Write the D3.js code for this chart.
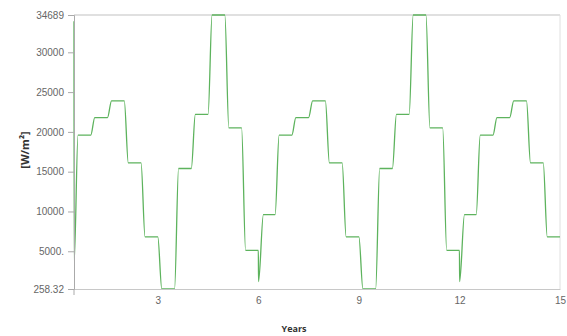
<!DOCTYPE html>
<html>
<head>
<meta charset="utf-8">
<script src="https://cdn.jsdelivr.net/npm/d3@7"></script>
<style>
  html, body { margin: 0; padding: 0; background: #fff; }
  svg { display: block; font-family: "Open Sans", "Noto Sans", sans-serif; }
  .tick text { fill: #666; font-size: 10px; }
  .axis-title { font-weight: bold; fill: #333; }
</style>
</head>
<body>
<svg id="chart" width="567" height="336"></svg>
<script>
// plateau start (years) and level [W/m2], each plateau lasts until the next start
const stepYears = [0.5, 1.0, 1.5, 2.0, 2.5, 3.0, 3.5, 4.0, 4.5, 5.0, 5.5, 6.0,
                   6.5, 7.0, 7.5, 8.0, 8.5, 9.0, 9.5, 10.0, 10.5, 11.0, 11.5, 12.0,
                   12.5, 13.0, 13.5, 14.0, 14.5];
const stepFlux = [19600, 21800, 23900, 16100, 6800, 258.32, 15400, 22200, 34689, 20500, 5100, 9600,
                  19600, 21800, 23900, 16100, 6800, 258.32, 15400, 22200, 34689, 20500, 5100, 9600,
                  19600, 21800, 23900, 16100, 6800];
const endYear = 15;

// start-up transient and the short dips before the 9600 plateaus
const startFlux = [33900, 3600];
const dipYears = [6.0, 12.0];
const dipFlux = [1200, 1200];

const xTicks = [3, 6, 9, 12, 15];
const yTicks = [258.32, 5000, 10000, 15000, 20000, 25000, 30000, 34689];
const yTickLabels = ['258.32', '5000.', '10000', '15000', '20000', '25000', '30000', '34689'];

const margin = { top: 15, right: 7, bottom: 47, left: 74 };
const width = 567 - margin.left - margin.right;
const height = 336 - margin.top - margin.bottom;
const ramp = 0.12;

const svg = d3.select('#chart');
const g = svg.append('g').attr('transform', `translate(${margin.left},${margin.top})`);

const x = d3.scaleLinear().domain([0.5, endYear]).range([0, width]);
const y = d3.scaleLinear().domain([258.32, 34689]).range([height, 0]);

// frame
g.append('line').attr('x1', 0).attr('x2', width).attr('y1', 0).attr('y2', 0)
  .attr('stroke', '#d6d6d6').attr('stroke-width', 1.5);
g.append('line').attr('x1', width).attr('x2', width).attr('y1', 0).attr('y2', height)
  .attr('stroke', '#e0e0e0');

// build vertices from plateaus
const pts = [[stepYears[0], startFlux[0]], [stepYears[0] + 0.004, startFlux[1]]];
stepYears.forEach((t, i) => {
  const next = i < stepYears.length - 1 ? stepYears[i + 1] : endYear;
  const d = dipYears.indexOf(t);
  if (d >= 0) {
    pts.push([t + 0.006, dipFlux[d]]);
    pts.push([t + ramp + 0.03, stepFlux[i]]);
  } else {
    pts.push([t + ramp, stepFlux[i]]);
  }
  pts.push([next, stepFlux[i]]);
});

const line = d3.line()
  .x(d => x(d[0]))
  .y(d => y(d[1]))
  .curve(d3.curveMonotoneX);

g.append('path')
  .datum(pts)
  .attr('fill', 'none')
  .attr('stroke', '#5db35d')
  .attr('stroke-width', 1.3)
  .attr('d', line);

// axes
const xAxis = g.append('g')
  .attr('transform', `translate(0,${height})`)
  .call(d3.axisBottom(x).tickValues(xTicks).tickSize(0).tickPadding(8).tickFormat(d3.format('d')));
xAxis.select('.domain').attr('stroke', '#c8c8c8');

g.append('line').attr('x1', 0).attr('x2', 0).attr('y1', height).attr('y2', height + 6)
  .attr('stroke', '#aaa');

const yAxis = g.append('g')
  .call(d3.axisLeft(y).tickValues(yTicks).tickSize(6).tickPadding(4)
    .tickFormat((d, i) => yTickLabels[i]));
yAxis.select('.domain').attr('stroke', '#aaa');
yAxis.selectAll('.tick line').attr('stroke', '#aaa');

// titles
svg.append('text')
  .attr('class', 'axis-title')
  .attr('x', 294)
  .attr('y', 332)
  .attr('text-anchor', 'middle')
  .style('font-size', '9px')
  .text('Years');

svg.append('text')
  .attr('class', 'axis-title')
  .attr('transform', 'translate(29,150) rotate(-90)')
  .attr('text-anchor', 'middle')
  .style('font-size', '11px')
  .text('[W/m²]');
</script>
</body>
</html>
